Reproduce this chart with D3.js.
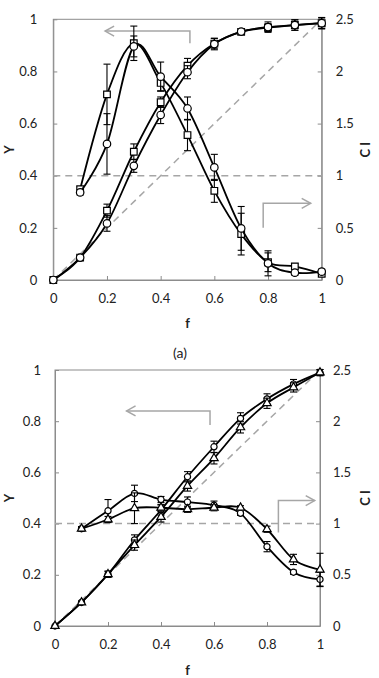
<!DOCTYPE html>
<html><head><meta charset="utf-8">
<script src="https://cdn.jsdelivr.net/npm/d3@7"></script>
<style>
body{margin:0;background:#fff;}
svg text{font-family:Lato,"Open Sans",sans-serif;fill:#222;}
</style></head>
<body><svg id="c" width="379" height="678"></svg>
<script>
// ---- data ----
const fVals = [0,0.1,0.2,0.3,0.4,0.5,0.6,0.7,0.8,0.9,1.0];
const fCI = [0.1,0.2,0.3,0.4,0.5,0.6,0.7,0.8,0.9,1.0];
const yTicks = [0,0.2,0.4,0.6,0.8,1];
const ciTicks = [0,0.5,1,1.5,2,2.5];
const fTicks = [0,0.2,0.4,0.6,0.8,1];

// panel (a)
const aYsq   = [0,0.086,0.266,0.492,0.682,0.822,0.907,0.952,0.968,0.978,0.985];
const aYsqE  = [0,0.005,0.025,0.03,0.02,0.028,0.02,0.01,0.015,0.02,0.02];
const aYci   = [0,0.086,0.217,0.438,0.633,0.797,0.905,0.953,0.970,0.978,0.985];
const aYciE  = [0,0.005,0.03,0.025,0.033,0.025,0.022,0.01,0.02,0.02,0.022];
const aCIsq  = [0.87,1.78,2.27,1.89,1.39,0.855,0.44,0.17,0.13,0.06];
const aCIsqE = [0.025,0.29,0.165,0.075,0.15,0.11,0.2,0.09,0.025,0.025];
const aCIci  = [0.84,1.305,2.24,1.95,1.645,1.08,0.495,0.16,0.07,0.08];
const aCIciE = [0.025,0.29,0.1,0.14,0.11,0.125,0.21,0.12,0.025,0.025];

// panel (b)
const bYci   = [0,0.092,0.202,0.336,0.453,0.583,0.700,0.811,0.887,0.945,0.990];
const bYciE  = [0,0.005,0.012,0.02,0.02,0.02,0.022,0.022,0.02,0.018,0.012];
const bYtr   = [0,0.092,0.202,0.316,0.426,0.547,0.655,0.776,0.870,0.932,0.990];
const bYtrE  = [0,0.005,0.012,0.02,0.02,0.02,0.022,0.022,0.02,0.018,0.012];
const bCIci  = [0.95,1.125,1.295,1.235,1.21,1.18,1.10,0.775,0.525,0.455];
const bCIciE = [0.02,0.11,0.08,0.03,0.05,0.04,0.02,0.05,0.02,0.07];
const bCItr  = [0.95,1.04,1.15,1.155,1.14,1.155,1.155,0.945,0.65,0.55];
const bCItrE = [0.02,0.03,0.15,0.03,0.03,0.03,0.02,0.03,0.05,0.16];

// arrows: [x-start, y-start, y-corner, x-end] in data units (f, Y)
const aArrowL = [0.509,0.908,0.955,0.193];
const aArrowR = [0.782,0.20,0.294,0.959];
const bArrowL = [0.585,0.785,0.84,0.27];
const bArrowR = [0.843,0.365,0.49,0.98];

const svg = d3.select("#c");
const GRAY = "#a6a6a6";

function panel(o){
  const x = d3.scaleLinear().domain([0,1]).range([o.l,o.r]);
  const y = d3.scaleLinear().domain([0,1]).range([o.b,o.t]);
  const y2 = d3.scaleLinear().domain([0,2.5]).range([o.b,o.t]);
  const g = svg.append("g");
  // border
  g.append("rect").attr("x",o.l).attr("y",o.t).attr("width",o.r-o.l).attr("height",o.b-o.t)
    .attr("fill","none").attr("stroke","#8c8c8c").attr("stroke-width",1);
  // axes
  const ax = g.append("g").attr("transform",`translate(0,${o.b})`)
    .call(d3.axisBottom(x).tickValues(fTicks).tickFormat(d3.format("")).tickSizeInner(-4).tickSizeOuter(0).tickPadding(14));
  const ay = g.append("g").attr("transform",`translate(${o.l},0)`)
    .call(d3.axisLeft(y).tickValues(yTicks).tickFormat(d3.format("")).tickSizeInner(-4).tickSizeOuter(0).tickPadding(o.lpad));
  const ay2 = g.append("g").attr("transform",`translate(${o.r},0)`)
    .call(d3.axisRight(y2).tickValues(ciTicks).tickFormat(d3.format("")).tickSizeInner(-4).tickSizeOuter(0).tickPadding(o.rpad));
  [ax,ay,ay2].forEach(a=>{
    a.select(".domain").attr("stroke","#8c8c8c");
    a.selectAll(".tick line").attr("stroke","#8c8c8c");
    a.selectAll("text").attr("font-size",13).attr("font-family","Lato,'Open Sans',sans-serif").attr("fill","#222");
  });
  // reference dashed lines
  g.append("line").attr("x1",x(0)).attr("x2",x(1)).attr("y1",y2(1)).attr("y2",y2(1))
    .attr("stroke",GRAY).attr("stroke-width",1.5).attr("stroke-dasharray","7,5");
  g.append("line").attr("x1",x(0)).attr("x2",x(1)).attr("y1",y(0)).attr("y2",y(1))
    .attr("stroke",GRAY).attr("stroke-width",1.5).attr("stroke-dasharray","7,5");
  // arrows
  function arrow(a,dir){
    const [xs,ys,yc,xe]=a;
    g.append("path").attr("d",`M${x(xs)},${y(ys)}V${y(yc)}H${x(xe)}`)
      .attr("fill","none").attr("stroke",GRAY).attr("stroke-width",1.5);
    const hx=x(xe), hy=y(yc), s=dir*9;
    g.append("path").attr("d",`M${hx+s},${hy-5}L${hx},${hy}L${hx+s},${hy+5}`)
      .attr("fill","none").attr("stroke",GRAY).attr("stroke-width",1.5);
  }
  arrow(o.arrL,1); arrow(o.arrR,-1);
  // series
  const line = d3.line().curve(d3.curveCatmullRom.alpha(0)).x(d=>x(d[0])).y(d=>d[1]);
  o.series.forEach(s=>{
    const sc = s.axis===2?y2:y;
    const pts = s.f.map((f,i)=>[f,sc(s.v[i]),sc(s.v[i]+s.e[i]),sc(s.v[i]-s.e[i])]);
    g.append("path").attr("d",line(pts)).attr("fill","none").attr("stroke","#000").attr("stroke-width",1.8);
    const eb = g.append("g").attr("stroke","#000").attr("stroke-width",1.1);
    pts.forEach(p=>{
      if(Math.abs(p[3]-p[2])<1) return;
      const cx=x(p[0]);
      eb.append("line").attr("x1",cx).attr("x2",cx).attr("y1",p[2]).attr("y2",p[3]);
      eb.append("line").attr("x1",cx-3.5).attr("x2",cx+3.5).attr("y1",p[2]).attr("y2",p[2]);
      eb.append("line").attr("x1",cx-3.5).attr("x2",cx+3.5).attr("y1",p[3]).attr("y2",p[3]);
    });
    const sym = d3.symbol().type(s.sym).size(s.size);
    g.append("g").selectAll("path").data(pts).join("path")
      .attr("transform",p=>`translate(${x(p[0])},${p[1]})`)
      .attr("d",sym).attr("fill","#fff").attr("stroke","#000").attr("stroke-width",1.2);
  });
  // axis titles
  g.append("text").attr("transform",`translate(${o.yTitleX},${(o.t+o.b)/2}) rotate(-90)`)
    .attr("text-anchor","middle").attr("font-weight","bold").attr("font-size",13).text("Y");
  g.append("text").attr("transform",`translate(${o.ciTitleX},${(o.t+o.b)/2}) rotate(-90)`)
    .attr("text-anchor","middle").attr("font-weight","bold").attr("font-size",13).text("C I");
  g.append("text").attr("x",(o.l+o.r)/2).attr("y",o.fTitleY)
    .attr("text-anchor","middle").attr("font-weight","bold").attr("font-size",13).text("f");
}

panel({l:53.3,r:321.7,t:19.3,b:280,lpad:16,rpad:14,yTitleX:14,ciTitleX:370,fTitleY:328,
  arrL:aArrowL,arrR:aArrowR,
  series:[
    {f:fVals,v:aYsq,e:aYsqE,axis:1,sym:d3.symbolSquare,size:44},
    {f:fVals,v:aYci,e:aYciE,axis:1,sym:d3.symbolCircle,size:44},
    {f:fCI,v:aCIsq,e:aCIsqE,axis:2,sym:d3.symbolSquare,size:44},
    {f:fCI,v:aCIci,e:aCIciE,axis:2,sym:d3.symbolCircle,size:44}
  ]});

svg.append("text").attr("x",180).attr("y",358).attr("text-anchor","middle").attr("font-size",14).text("(a)");

panel({l:55,r:320,t:370,b:626,lpad:14,rpad:13,yTitleX:14,ciTitleX:370,fTitleY:675,
  arrL:bArrowL,arrR:bArrowR,
  series:[
    {f:fVals,v:bYci,e:bYciE,axis:1,sym:d3.symbolCircle,size:30},
    {f:fVals,v:bYtr,e:bYtrE,axis:1,sym:d3.symbolTriangle,size:30},
    {f:fCI,v:bCIci,e:bCIciE,axis:2,sym:d3.symbolCircle,size:30},
    {f:fCI,v:bCItr,e:bCItrE,axis:2,sym:d3.symbolTriangle,size:30}
  ]});
</script></body></html>
